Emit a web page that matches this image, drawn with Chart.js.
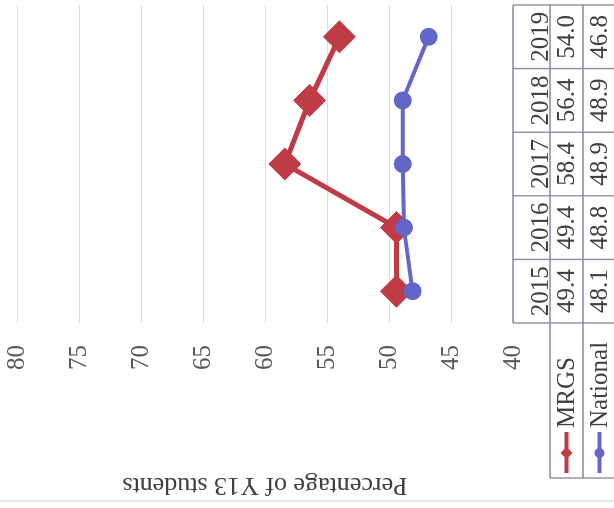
<!DOCTYPE html>
<html>
<head>
<meta charset="utf-8">
<script src="https://cdn.jsdelivr.net/npm/chart.js@4.4.1/dist/chart.umd.min.js"></script>
<style>
html, body { margin: 0; padding: 0; background: #fff; overflow: hidden; }
#frame { position: relative; width: 614px; height: 508px; overflow: hidden; background: #fff; }
/* the reference is the chart turned a quarter turn to the left */
#turn { position: absolute; left: 0; top: 0; width: 520px; height: 620px;
        transform-origin: 0 0; transform: translate(0px, 508px) rotate(-90deg); }
</style>
</head>
<body>
<div id="frame"><div id="turn"><canvas id="y13Chart" width="520" height="620"></canvas></div></div>
<script>
const years = ['2015', '2016', '2017', '2018', '2019'];
const mrgs = [49.4, 49.4, 58.4, 56.4, 54.0];
const national = [48.1, 48.8, 48.9, 48.9, 46.8];
const seriesNames = ['MRGS', 'National'];
const axisTitle = 'Percentage of Y13 students';

const red = '#BF3B45';
const blue = '#6266C8';
const serif = 'Liberation Serif';

// data table under the plot, drawn against the x scale
const dataTable = {
    id: 'dataTable',
    beforeDraw(chart) {
        const ctx = chart.ctx;
        ctx.save();
        ctx.strokeStyle = '#cfcfcf';
        ctx.lineWidth = 1;
        ctx.beginPath();
        ctx.moveTo(7, 0);
        ctx.lineTo(7, chart.height);
        ctx.stroke();
        ctx.restore();
    },
    afterDraw(chart) {
        const ctx = chart.ctx;
        const area = chart.chartArea;
        const x = chart.scales.x;
        const cell = (area.right - area.left) / years.length;
        const rows = [area.bottom, area.bottom + 37, area.bottom + 70, area.bottom + 103];
        const legLeft = 30;

        ctx.save();
        ctx.strokeStyle = '#8686a6';
        ctx.lineWidth = 1.3;
        ctx.beginPath();
        ctx.moveTo(area.left, rows[0]);
        ctx.lineTo(area.right, rows[0]);
        for (let r = 1; r < rows.length; r++) {
            ctx.moveTo(legLeft, rows[r]);
            ctx.lineTo(area.right, rows[r]);
        }
        for (let i = 0; i <= years.length; i++) {
            const px = area.left + i * cell;
            ctx.moveTo(px, rows[0]);
            ctx.lineTo(px, rows[3]);
        }
        ctx.moveTo(legLeft, rows[1]);
        ctx.lineTo(legLeft, rows[3]);
        ctx.stroke();

        const values = [mrgs, national];
        const colors = [red, blue];
        ctx.font = '25px "' + serif + '"';
        ctx.fillStyle = '#404040';
        ctx.textBaseline = 'middle';
        for (let s = 0; s < values.length; s++) {
            const cy = (rows[s + 1] + rows[s + 2]) / 2;
            ctx.textAlign = 'center';
            values[s].forEach((v, i) => {
                ctx.fillText(v.toFixed(1), x.getPixelForValue(i), cy + 1);
            });
            // legend key
            ctx.strokeStyle = colors[s];
            ctx.fillStyle = colors[s];
            ctx.lineWidth = 4;
            ctx.beginPath();
            ctx.moveTo(35, cy);
            ctx.lineTo(76, cy);
            ctx.stroke();
            ctx.beginPath();
            if (s === 0) {
                ctx.moveTo(55, cy - 6); ctx.lineTo(61, cy); ctx.lineTo(55, cy + 6); ctx.lineTo(49, cy);
            } else {
                ctx.arc(55, cy, 5, 0, Math.PI * 2);
            }
            ctx.fill();
            ctx.fillStyle = '#404040';
            ctx.textAlign = 'left';
            ctx.fillText(seriesNames[s], 80, cy + 1);
        }
        ctx.restore();
    }
};

const ctx = document.getElementById('y13Chart').getContext('2d');
const chart = new Chart(ctx, {
    type: 'line',
    data: {
        labels: years,
        datasets: [{
            label: seriesNames[0],
            data: mrgs,
            borderColor: red,
            backgroundColor: red,
            borderWidth: 5,
            pointStyle: 'rectRot',
            pointRadius: 16,
            pointBorderWidth: 1,
            order: 1
        }, {
            label: seriesNames[1],
            data: national,
            borderColor: blue,
            backgroundColor: blue,
            borderWidth: 4,
            pointStyle: 'circle',
            pointRadius: 7,
            order: 0
        }]
    },
    options: {
        responsive: false,
        animation: false,
        layout: { padding: { left: 0, top: 13, right: 7.5, bottom: 0 } },
        plugins: { legend: { display: false }, tooltip: { enabled: false } },
        scales: {
            x: {
                offset: true,
                grid: { display: false },
                border: { display: false },
                ticks: { font: { family: serif, size: 25 }, color: '#404040', padding: 5, maxRotation: 0 },
                afterFit: s => { s.height = 107; }
            },
            y: {
                min: 40,
                max: 80,
                border: { display: false },
                grid: { color: '#dcdcdc', drawTicks: false },
                ticks: { stepSize: 5, font: { family: serif, size: 25 }, color: '#595959', padding: 22 },
                title: { display: true, text: axisTitle, font: { family: serif, size: 26 }, color: '#404040', padding: { top: 8 } },
                afterFit: s => { s.width = 185; s.paddingTop = 0; s.paddingBottom = 0; }
            }
        }
    },
    plugins: [dataTable]
});
</script>
</body>
</html>
